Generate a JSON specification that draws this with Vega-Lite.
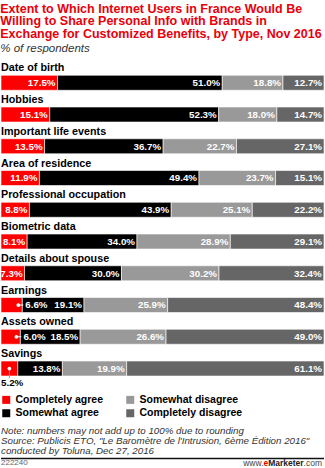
{
  "$schema": "https://vega.github.io/schema/vega-lite/v6.json",
  "padding": {"left": 0, "top": 2.5, "right": 0, "bottom": 0},
  "background": "#ffffff",
  "title": {
    "text": ["Extent to Which Internet Users in France Would Be", "Willing to Share Personal Info with Brands in", "Exchange for Customized Benefits, by Type, Nov 2016"],
    "subtitle": "% of respondents",
    "anchor": "start",
    "color": "#e8000b",
    "font": "Liberation Sans",
    "fontSize": 12.5,
    "fontWeight": "bold",
    "lineHeight": 12.6,
    "subtitleFont": "Liberation Sans",
    "subtitleFontSize": 11.5,
    "subtitleFontStyle": "italic",
    "subtitleColor": "#333333",
    "subtitlePadding": 2,
    "offset": 2.5
  },
  "datasets": {
    "answers": [
      {"cat": "Date of birth", "type": "Completely agree", "rank": 1, "v": 0.175},
      {"cat": "Date of birth", "type": "Somewhat agree", "rank": 2, "v": 0.510},
      {"cat": "Date of birth", "type": "Somewhat disagree", "rank": 3, "v": 0.188},
      {"cat": "Date of birth", "type": "Completely disagree", "rank": 4, "v": 0.127},
      {"cat": "Hobbies", "type": "Completely agree", "rank": 1, "v": 0.151},
      {"cat": "Hobbies", "type": "Somewhat agree", "rank": 2, "v": 0.523},
      {"cat": "Hobbies", "type": "Somewhat disagree", "rank": 3, "v": 0.180},
      {"cat": "Hobbies", "type": "Completely disagree", "rank": 4, "v": 0.147},
      {"cat": "Important life events", "type": "Completely agree", "rank": 1, "v": 0.135},
      {"cat": "Important life events", "type": "Somewhat agree", "rank": 2, "v": 0.367},
      {"cat": "Important life events", "type": "Somewhat disagree", "rank": 3, "v": 0.227},
      {"cat": "Important life events", "type": "Completely disagree", "rank": 4, "v": 0.271},
      {"cat": "Area of residence", "type": "Completely agree", "rank": 1, "v": 0.119},
      {"cat": "Area of residence", "type": "Somewhat agree", "rank": 2, "v": 0.494},
      {"cat": "Area of residence", "type": "Somewhat disagree", "rank": 3, "v": 0.237},
      {"cat": "Area of residence", "type": "Completely disagree", "rank": 4, "v": 0.151},
      {"cat": "Professional occupation", "type": "Completely agree", "rank": 1, "v": 0.088},
      {"cat": "Professional occupation", "type": "Somewhat agree", "rank": 2, "v": 0.439},
      {"cat": "Professional occupation", "type": "Somewhat disagree", "rank": 3, "v": 0.251},
      {"cat": "Professional occupation", "type": "Completely disagree", "rank": 4, "v": 0.222},
      {"cat": "Biometric data", "type": "Completely agree", "rank": 1, "v": 0.081},
      {"cat": "Biometric data", "type": "Somewhat agree", "rank": 2, "v": 0.340},
      {"cat": "Biometric data", "type": "Somewhat disagree", "rank": 3, "v": 0.289},
      {"cat": "Biometric data", "type": "Completely disagree", "rank": 4, "v": 0.291},
      {"cat": "Details about spouse", "type": "Completely agree", "rank": 1, "v": 0.073},
      {"cat": "Details about spouse", "type": "Somewhat agree", "rank": 2, "v": 0.300},
      {"cat": "Details about spouse", "type": "Somewhat disagree", "rank": 3, "v": 0.302},
      {"cat": "Details about spouse", "type": "Completely disagree", "rank": 4, "v": 0.324},
      {"cat": "Earnings", "type": "Completely agree", "rank": 1, "v": 0.066},
      {"cat": "Earnings", "type": "Somewhat agree", "rank": 2, "v": 0.191},
      {"cat": "Earnings", "type": "Somewhat disagree", "rank": 3, "v": 0.259},
      {"cat": "Earnings", "type": "Completely disagree", "rank": 4, "v": 0.484},
      {"cat": "Assets owned", "type": "Completely agree", "rank": 1, "v": 0.060},
      {"cat": "Assets owned", "type": "Somewhat agree", "rank": 2, "v": 0.185},
      {"cat": "Assets owned", "type": "Somewhat disagree", "rank": 3, "v": 0.266},
      {"cat": "Assets owned", "type": "Completely disagree", "rank": 4, "v": 0.490},
      {"cat": "Savings", "type": "Completely agree", "rank": 1, "v": 0.052},
      {"cat": "Savings", "type": "Somewhat agree", "rank": 2, "v": 0.138},
      {"cat": "Savings", "type": "Somewhat disagree", "rank": 3, "v": 0.199},
      {"cat": "Savings", "type": "Completely disagree", "rank": 4, "v": 0.611}
    ],
    "notes": [
      {"row": "n1", "kind": "note", "text": "Note: numbers may not add up to 100% due to rounding"},
      {"row": "n2", "kind": "note", "text": "Source: Publicis ETO, \"Le Baromètre de l'Intrusion, 6ème Édition 2016\""},
      {"row": "n3", "kind": "note", "text": "conducted by Toluna, Dec 27, 2016"},
      {"row": "f", "kind": "id", "text": "222240"},
      {"row": "f", "kind": "brand1", "text": "www."},
      {"row": "f", "kind": "brand2", "text": "e"},
      {"row": "f", "kind": "brand3", "text": "Marketer"},
      {"row": "f", "kind": "brand4", "text": ".com"}
    ]
  },
  "vconcat": [
    {
      "width": 323,
      "height": 317.5,
      "data": {"name": "answers"},
      "encoding": {
        "y": {
          "field": "cat",
          "type": "nominal",
          "sort": ["Date of birth", "Hobbies", "Important life events", "Area of residence", "Professional occupation", "Biometric data", "Details about spouse", "Earnings", "Assets owned", "Savings"],
          "scale": {"paddingInner": 0, "paddingOuter": 0},
          "axis": null
        }
      },
      "layer": [
        {
          "mark": {"type": "bar", "height": 15, "yOffset": 10.4, "stroke": "#ffffff", "strokeWidth": 0.6},
          "encoding": {
            "x": {
              "field": "v",
              "type": "quantitative",
              "stack": "zero",
              "scale": {"domain": [0, 1], "nice": false, "clamp": true},
              "axis": {"orient": "top", "domain": true, "domainColor": "#cccccc", "domainWidth": 2, "labels": false, "ticks": false, "grid": false, "title": null}
            },
            "color": {
              "field": "type",
              "type": "nominal",
              "scale": {
                "domain": ["Completely agree", "Somewhat disagree", "Somewhat agree", "Completely disagree"],
                "range": ["#ff0000", "#999999", "#000000", "#666666"]
              },
              "legend": {
                "orient": "bottom",
                "title": null,
                "columns": 2,
                "symbolType": "square",
                "symbolSize": 64,
                "symbolStrokeWidth": 0,
                "labelFont": "Liberation Sans",
                "labelFontSize": 10.5,
                "labelFontWeight": "bold",
                "labelColor": "#000000",
                "columnPadding": 21,
                "rowPadding": 2.5,
                "labelOffset": 4,
                "offset": 20,
                "padding": 0
              }
            },
            "order": {"field": "rank", "type": "quantitative"}
          }
        },
        {
          "mark": {"type": "text", "align": "right", "baseline": "middle", "dx": -2, "yOffset": 10.8, "font": "Liberation Sans", "fontSize": 9.75, "fontWeight": "bold", "color": "#ffffff"},
          "encoding": {
            "x": {"field": "v", "type": "quantitative", "stack": "zero", "axis": null},
            "detail": {"field": "type"},
            "order": {"field": "rank", "type": "quantitative"},
            "text": {
              "condition": {"test": "datum.type === 'Completely agree' && datum.v < 0.07", "value": ""},
              "field": "v",
              "type": "quantitative",
              "format": ".1%"
            }
          }
        },
        {
          "transform": [{"filter": "datum.rank === 1"}],
          "mark": {"type": "text", "align": "left", "baseline": "middle", "yOffset": -3.9, "font": "Liberation Sans", "fontSize": 10.75, "fontWeight": "bold", "color": "#000000"},
          "encoding": {
            "x": {"datum": 0, "type": "quantitative", "axis": null},
            "text": {"field": "cat"}
          }
        },
        {
          "transform": [{"filter": "datum.rank === 1 && datum.cat === 'Savings'"}],
          "mark": {"type": "tick", "orient": "vertical", "size": 9, "thickness": 1, "color": "#999999", "opacity": 1, "xOffset": -8.4, "yOffset": 15.7},
          "encoding": {
            "x": {"field": "v", "type": "quantitative", "axis": null}
          }
        },
        {
          "transform": [{"filter": "datum.rank === 1 && datum.cat === 'Savings'"}],
          "mark": {"type": "point", "filled": true, "color": "#ffffff", "opacity": 1, "size": 14, "xOffset": -8.4, "yOffset": 10.4},
          "encoding": {
            "x": {"field": "v", "type": "quantitative", "axis": null}
          }
        },
        {
          "transform": [{"filter": "datum.rank === 1 && datum.v < 0.07 && datum.cat !== 'Savings'"}],
          "mark": {"type": "rule", "color": "#ffffff", "strokeWidth": 1, "xOffset": -4, "x2Offset": 1, "yOffset": 10.4},
          "encoding": {
            "x": {"field": "v", "type": "quantitative", "axis": null},
            "x2": {"field": "v"}
          }
        },
        {
          "transform": [{"filter": "datum.rank === 1 && datum.v < 0.07 && datum.cat !== 'Savings'"}],
          "mark": {"type": "point", "filled": true, "color": "#ffffff", "opacity": 1, "size": 14, "xOffset": -4, "yOffset": 10.4},
          "encoding": {
            "x": {"field": "v", "type": "quantitative", "axis": null}
          }
        },
        {
          "transform": [{"filter": "datum.rank === 1 && datum.v < 0.07 && datum.cat !== 'Savings'"}],
          "mark": {"type": "text", "align": "left", "baseline": "middle", "dx": 3, "yOffset": 10.8, "font": "Liberation Sans", "fontSize": 9.75, "fontWeight": "bold", "color": "#ffffff"},
          "encoding": {
            "x": {"field": "v", "type": "quantitative", "axis": null},
            "text": {"field": "v", "type": "quantitative", "format": ".1%"}
          }
        },
        {
          "transform": [{"filter": "datum.rank === 1 && datum.cat === 'Savings'"}],
          "mark": {"type": "text", "align": "left", "baseline": "middle", "yOffset": 24.4, "font": "Liberation Sans", "fontSize": 9.75, "fontWeight": "bold", "color": "#000000"},
          "encoding": {
            "x": {"datum": 0, "type": "quantitative", "axis": null},
            "text": {"field": "v", "type": "quantitative", "format": ".1%"}
          }
        }
      ]
    },
    {
      "width": 323,
      "height": 38.8,
      "data": {"name": "notes"},
      "encoding": {
        "y": {
          "field": "row",
          "type": "nominal",
          "scale": {"type": "band", "domain": ["n1", "n2", "n3", "f"], "paddingInner": 0, "paddingOuter": 0},
          "axis": null
        }
      },
      "layer": [
        {
          "transform": [{"filter": "datum.kind === 'note'"}],
          "mark": {"type": "text", "align": "left", "baseline": "middle", "yOffset": 3, "font": "Liberation Sans", "fontStyle": "italic", "fontSize": 9.75, "color": "#333333"},
          "encoding": {
            "x": {
              "datum": 0,
              "type": "quantitative",
              "scale": {"domain": [0, 1], "nice": false},
              "axis": {"orient": "top", "domain": true, "domainColor": "#999999", "domainWidth": 1, "labels": false, "ticks": false, "grid": false, "title": null}
            },
            "text": {"field": "text"}
          }
        },
        {
          "transform": [{"filter": "datum.kind === 'id'"}],
          "mark": {"type": "rule", "color": "#111111", "strokeWidth": 1.5, "yOffset": 1},
          "encoding": {
            "x": {"datum": 0, "type": "quantitative", "axis": null},
            "x2": {"datum": 1}
          }
        },
        {
          "transform": [{"filter": "datum.kind === 'id'"}],
          "mark": {"type": "text", "align": "left", "baseline": "middle", "yOffset": 6, "font": "Liberation Sans", "fontSize": 8, "color": "#666666"},
          "encoding": {
            "x": {"datum": 0, "type": "quantitative", "axis": null},
            "text": {"field": "text"}
          }
        },
        {
          "transform": [{"filter": "datum.kind === 'brand4'"}],
          "mark": {"type": "text", "align": "right", "baseline": "middle", "dx": -2, "yOffset": 6, "font": "Liberation Sans", "fontSize": 8.5, "color": "#444444"},
          "encoding": {
            "x": {"datum": 1, "type": "quantitative", "axis": null},
            "text": {"field": "text"}
          }
        },
        {
          "transform": [{"filter": "datum.kind === 'brand3'"}],
          "mark": {"type": "text", "align": "right", "baseline": "middle", "dx": -20.4, "yOffset": 6, "font": "Liberation Sans", "fontSize": 8.5, "fontWeight": "bold", "color": "#222222"},
          "encoding": {
            "x": {"datum": 1, "type": "quantitative", "axis": null},
            "text": {"field": "text"}
          }
        },
        {
          "transform": [{"filter": "datum.kind === 'brand2'"}],
          "mark": {"type": "text", "align": "right", "baseline": "middle", "dx": -55.8, "yOffset": 6, "font": "Liberation Sans", "fontSize": 8.5, "fontWeight": "bold", "color": "#ee0000"},
          "encoding": {
            "x": {"datum": 1, "type": "quantitative", "axis": null},
            "text": {"field": "text"}
          }
        },
        {
          "transform": [{"filter": "datum.kind === 'brand1'"}],
          "mark": {"type": "text", "align": "right", "baseline": "middle", "dx": -60.5, "yOffset": 6, "font": "Liberation Sans", "fontSize": 8.5, "color": "#444444"},
          "encoding": {
            "x": {"datum": 1, "type": "quantitative", "axis": null},
            "text": {"field": "text"}
          }
        }
      ]
    }
  ],
  "spacing": 4,
  "resolve": {"scale": {"color": "independent"}},
  "config": {"view": {"stroke": null}, "font": "Liberation Sans"}
}
